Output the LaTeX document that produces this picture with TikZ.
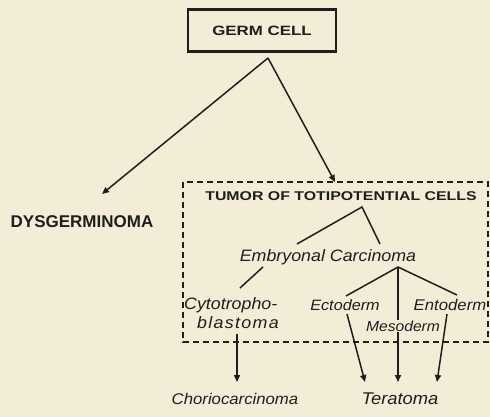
\documentclass[tikz,border=0pt]{standalone}
\usepackage{fontspec}
\setmainfont{Liberation Sans}
\newfontfamily\capsfont[FakeStretch=1.25]{Liberation Sans Bold}
\newfontfamily\dysfont[FakeStretch=1.0]{Liberation Sans Bold}
\newfontfamily\italfont[FakeStretch=1.08]{Liberation Sans Italic}
\newfontfamily\wideital[FakeStretch=1.08,LetterSpace=8]{Liberation Sans Italic}
\usetikzlibrary{arrows.meta}
\definecolor{paper}{HTML}{F3ECD6}
\definecolor{ink}{HTML}{1E1E1E}
\tikzset{
  caps/.style={font=\capsfont\fontsize{#1}{#1}\selectfont, text=ink, inner sep=0pt},
  ital/.style={font=\italfont\fontsize{#1}{#1}\selectfont, text=ink, inner sep=0pt},
  ital/.default=15,
  ln/.style={draw=ink, line width=1.5pt},
  arr/.style={ln, -{Triangle[length=7pt,width=6pt]}},
}
\begin{document}
\begin{tikzpicture}[x=1pt,y=-1pt]
\fill[paper] (0,0) rectangle (490,417);
\useasboundingbox (0,0) rectangle (490,417);
% germ cell box
\node[caps=13.5, draw=ink, line width=2.2pt, minimum width=148pt, minimum height=42pt] (germ) at (262,30.5) {GERM CELL};
\coordinate (apex) at (268,58);
\node[font=\dysfont\fontsize{17}{17}\selectfont, text=ink, inner sep=0pt] (dys) at (82,222) {DYSGERMINOMA};
\coordinate (dysend) at (102,194);
% dashed box
\draw[ink, line width=1.6pt, dash pattern=on 6pt off 4pt] (183,182) rectangle (488,342);
\coordinate (boxtop) at (335,182);
\draw[arr] (apex) -- (dysend);
\draw[arr] (apex) -- (boxtop);
\node[caps=12.7] (tumor) at (341,196) {TUMOR OF TOTIPOTENTIAL CELLS};
\coordinate (t1) at (362,207);
\coordinate (e1) at (297,244);
\coordinate (c1) at (380,244);
\draw[ln] (e1) -- (t1) -- (c1);
\node[ital=16.5] (emb) at (328,257) {Embryonal\space Carcinoma};
\coordinate (el1) at (263,267);
\coordinate (el2) at (240,288);
\draw[ln] (el1) -- (el2);
\coordinate (capex) at (398,267);
\node[ital=16.5, anchor=west] (cyto) at (184,305) {Cytotropho-};
\node[font=\wideital\fontsize{16.5}{16.5}\selectfont, text=ink, inner sep=0pt] (blast) at (238,323) {blastoma};
\node[ital=15] (ecto) at (345,305) {Ectoderm};
\node[ital=15.5] (ento) at (450,305) {Entoderm};
\coordinate (ec1) at (346,296);
\coordinate (en1) at (457,295);
\draw[ln] (ec1) -- (capex) -- (en1);
\node[ital=15.5] (chorio) at (235,399) {Choriocarcinoma};
\node[ital=17] (tera) at (400,399) {Teratoma};
\draw[arr] (237,334) -- (237,382);
\draw[arr] (347,314) -- (365,382);
\draw[arr] (capex) -- (398,382);
\draw[arr] (447,314) -- (437,382);
\node[ital=14.5, fill=paper, inner sep=1pt] (meso) at (403,326) {Mesoderm};
\end{tikzpicture}
\end{document}
